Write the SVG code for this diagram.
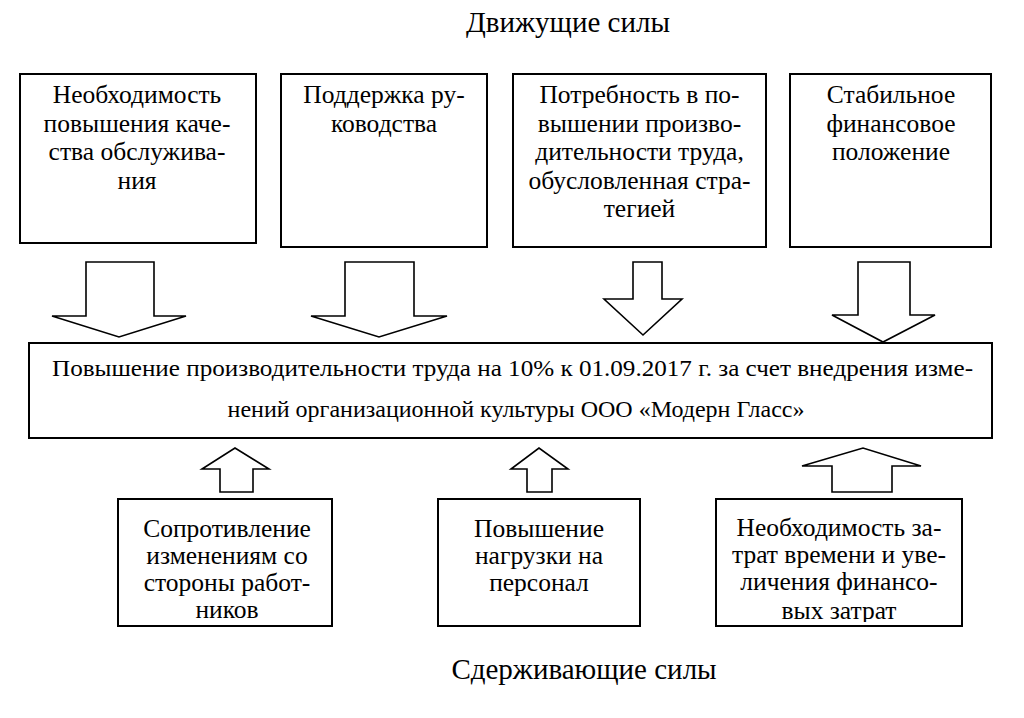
<svg xmlns="http://www.w3.org/2000/svg" width="1024" height="718" viewBox="0 0 1024 718">
<style>
.box{fill:#fff;stroke:#000;stroke-width:2}
.arr{fill:#fff;stroke:#000;stroke-width:1.6;stroke-linejoin:miter}
</style>
<defs>
<clipPath id="clipb3"><rect x="717" y="500" width="244" height="122"/></clipPath>
</defs>
<rect width="1024" height="718" fill="#fff"/>
<text x="568" y="32" font-family="Liberation Serif" font-size="29" text-anchor="middle">Движущие силы</text>
<text x="584" y="679" font-family="Liberation Serif" font-size="29" text-anchor="middle">Сдерживающие силы</text>

<g id="n1">
<rect class="box" x="20" y="74" width="236" height="169"/>
<text x="137" y="103" font-family="Liberation Serif" font-size="25.5" text-anchor="middle">Необходимость</text>
<text x="137" y="131.5" font-family="Liberation Serif" font-size="25.5" text-anchor="middle">повышения каче-</text>
<text x="137" y="160" font-family="Liberation Serif" font-size="25.5" text-anchor="middle">ства обслужива-</text>
<text x="137" y="188.5" font-family="Liberation Serif" font-size="25.5" text-anchor="middle">ния</text>
</g>
<g id="n2">
<rect class="box" x="281" y="74" width="206" height="173"/>
<text x="384" y="103" font-family="Liberation Serif" font-size="25.5" text-anchor="middle">Поддержка ру-</text>
<text x="384" y="131.5" font-family="Liberation Serif" font-size="25.5" text-anchor="middle">ководства</text>
</g>
<g id="n3">
<rect class="box" x="513" y="74" width="253" height="173"/>
<text x="639.5" y="103" font-family="Liberation Serif" font-size="25.5" text-anchor="middle">Потребность в по-</text>
<text x="639.5" y="131.5" font-family="Liberation Serif" font-size="25.5" text-anchor="middle">вышении произво-</text>
<text x="639.5" y="160" font-family="Liberation Serif" font-size="25.5" text-anchor="middle">дительности труда,</text>
<text x="639.5" y="188.5" font-family="Liberation Serif" font-size="25.5" text-anchor="middle">обусловленная стра-</text>
<text x="639.5" y="217" font-family="Liberation Serif" font-size="25.5" text-anchor="middle">тегией</text>
</g>
<g id="n4">
<rect class="box" x="790" y="74" width="201" height="173"/>
<text x="891" y="103" font-family="Liberation Serif" font-size="25.5" text-anchor="middle">Стабильное</text>
<text x="891" y="131.5" font-family="Liberation Serif" font-size="25.5" text-anchor="middle">финансовое</text>
<text x="891" y="160" font-family="Liberation Serif" font-size="25.5" text-anchor="middle">положение</text>
</g>

<g id="center">
<rect class="box" x="29" y="343" width="963" height="95"/>
<text x="512.5" y="376" font-family="Liberation Serif" font-size="24" text-anchor="middle" textLength="921" lengthAdjust="spacingAndGlyphs">Повышение производительности труда на 10% к 01.09.2017 г. за счет внедрения изме-</text>
<text x="516" y="417" font-family="Liberation Serif" font-size="24" text-anchor="middle">нений организационной культуры ООО «Модерн Гласс»</text>
</g>

<g id="b1">
<rect class="box" x="118" y="499" width="214" height="127"/>
<text x="227" y="537" font-family="Liberation Serif" font-size="25.5" text-anchor="middle">Сопротивление</text>
<text x="227" y="564" font-family="Liberation Serif" font-size="25.5" text-anchor="middle">изменениям со</text>
<text x="227" y="591" font-family="Liberation Serif" font-size="25.5" text-anchor="middle">стороны работ-</text>
<text x="227" y="618" font-family="Liberation Serif" font-size="25.5" text-anchor="middle">ников</text>
</g>
<g id="b2">
<rect class="box" x="438" y="499" width="202" height="127"/>
<text x="539" y="537" font-family="Liberation Serif" font-size="25.5" text-anchor="middle">Повышение</text>
<text x="539" y="564" font-family="Liberation Serif" font-size="25.5" text-anchor="middle">нагрузки на</text>
<text x="539" y="591" font-family="Liberation Serif" font-size="25.5" text-anchor="middle">персонал</text>
</g>
<g id="b3">
<rect class="box" x="716" y="499" width="246" height="127"/>
<g clip-path="url(#clipb3)">
<text x="839" y="536" font-family="Liberation Serif" font-size="25.5" text-anchor="middle">Необходимость за-</text>
<text x="839" y="563" font-family="Liberation Serif" font-size="25.5" text-anchor="middle">трат времени и уве-</text>
<text x="839" y="590" font-family="Liberation Serif" font-size="25.5" text-anchor="middle">личения финансо-</text>
<text x="839" y="619" font-family="Liberation Serif" font-size="25.5" text-anchor="middle">вых затрат</text>
</g>
</g>

<g id="connectors">
<polygon class="arr" points="86,262 154,262 154,316 186,316 119,337 52,316 86,316"/>
<polygon class="arr" points="345,262 414,262 414,316 447,316 379,337 311,316 345,316"/>
<polygon class="arr" points="633,262 662,262 662,299 682,299 643,335 604,299 633,299"/>
<polygon class="arr" points="858,262 910,262 910,315 935,315 883,342 832,315 858,315"/>
<polygon class="arr" points="220,492 253,492 253,469 269,469 235,448 202,469 220,469"/>
<polygon class="arr" points="527,492 552,492 552,469 568,469 539,448 511,469 527,469"/>
<polygon class="arr" points="832,492 892,492 892,466 921,466 863,448 802,466 832,466"/>
</g>
</svg>
